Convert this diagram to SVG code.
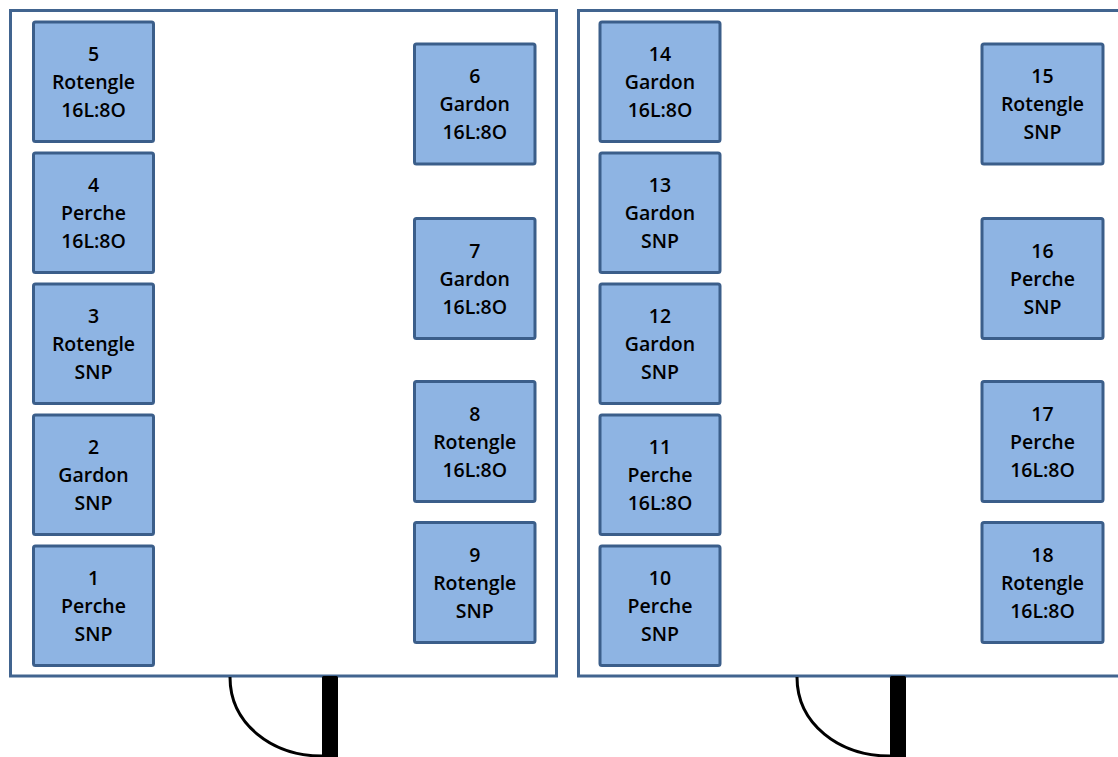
<svg xmlns="http://www.w3.org/2000/svg" width="1118" height="757" viewBox="0 0 1118 757">
<style>
.room{fill:#ffffff;stroke:#41648f;stroke-width:3}
.tank{fill:#8eb4e3;stroke:#3b5e8a;stroke-width:3}
.lbl{font-family:"Open Sans","Liberation Sans",sans-serif;font-weight:600;font-size:19.5px;fill:#000;text-anchor:middle}
.arc{fill:none;stroke:#000;stroke-width:3}
</style>
<rect width="1118" height="757" fill="#ffffff"/>
<g id="room-left"><rect class="room" x="10.5" y="10.5" width="546" height="665.5"/></g>
<g id="room-right"><rect class="room" x="578.5" y="10.5" width="560" height="665.5"/></g>
<g id="doors">
<path class="arc" d="M230 677 C230 724 272 756 322 756"/>
<rect x="322" y="676" width="16" height="82" rx="1.5" fill="#000"/>
<path class="arc" d="M797 677 C797 724 839 756 890 756"/>
<rect x="890" y="676" width="16" height="82" rx="1.5" fill="#000"/>
</g>
<g id="n5"><rect class="tank" x="33.5" y="22" width="120" height="119.5" rx="2"/><text class="lbl" x="93.5" y="61">5</text><text class="lbl" x="93.5" y="89">Rotengle</text><text class="lbl" x="93.5" y="117">16L:8O</text></g>
<g id="n4"><rect class="tank" x="33.5" y="153" width="120" height="119.5" rx="2"/><text class="lbl" x="93.5" y="192">4</text><text class="lbl" x="93.5" y="220">Perche</text><text class="lbl" x="93.5" y="248">16L:8O</text></g>
<g id="n3"><rect class="tank" x="33.5" y="284" width="120" height="119.5" rx="2"/><text class="lbl" x="93.5" y="323">3</text><text class="lbl" x="93.5" y="351">Rotengle</text><text class="lbl" x="93.5" y="379">SNP</text></g>
<g id="n2"><rect class="tank" x="33.5" y="415" width="120" height="119.5" rx="2"/><text class="lbl" x="93.5" y="454">2</text><text class="lbl" x="93.5" y="482">Gardon</text><text class="lbl" x="93.5" y="510">SNP</text></g>
<g id="n1"><rect class="tank" x="33.5" y="546" width="120" height="119.5" rx="2"/><text class="lbl" x="93.5" y="585">1</text><text class="lbl" x="93.5" y="613">Perche</text><text class="lbl" x="93.5" y="641">SNP</text></g>
<g id="n6"><rect class="tank" x="414.5" y="44" width="120.5" height="120" rx="2"/><text class="lbl" x="474.75" y="83">6</text><text class="lbl" x="474.75" y="111">Gardon</text><text class="lbl" x="474.75" y="139">16L:8O</text></g>
<g id="n7"><rect class="tank" x="414.5" y="218.5" width="120.5" height="120" rx="2"/><text class="lbl" x="474.75" y="257.5">7</text><text class="lbl" x="474.75" y="285.5">Gardon</text><text class="lbl" x="474.75" y="313.5">16L:8O</text></g>
<g id="n8"><rect class="tank" x="414.5" y="381.5" width="120.5" height="120" rx="2"/><text class="lbl" x="474.75" y="420.5">8</text><text class="lbl" x="474.75" y="448.5">Rotengle</text><text class="lbl" x="474.75" y="476.5">16L:8O</text></g>
<g id="n9"><rect class="tank" x="414.5" y="522.5" width="120.5" height="120" rx="2"/><text class="lbl" x="474.75" y="561.5">9</text><text class="lbl" x="474.75" y="589.5">Rotengle</text><text class="lbl" x="474.75" y="617.5">SNP</text></g>
<g id="n14"><rect class="tank" x="600" y="22" width="120" height="119.5" rx="2"/><text class="lbl" x="660" y="61">14</text><text class="lbl" x="660" y="89">Gardon</text><text class="lbl" x="660" y="117">16L:8O</text></g>
<g id="n13"><rect class="tank" x="600" y="153" width="120" height="119.5" rx="2"/><text class="lbl" x="660" y="192">13</text><text class="lbl" x="660" y="220">Gardon</text><text class="lbl" x="660" y="248">SNP</text></g>
<g id="n12"><rect class="tank" x="600" y="284" width="120" height="119.5" rx="2"/><text class="lbl" x="660" y="323">12</text><text class="lbl" x="660" y="351">Gardon</text><text class="lbl" x="660" y="379">SNP</text></g>
<g id="n11"><rect class="tank" x="600" y="415" width="120" height="119.5" rx="2"/><text class="lbl" x="660" y="454">11</text><text class="lbl" x="660" y="482">Perche</text><text class="lbl" x="660" y="510">16L:8O</text></g>
<g id="n10"><rect class="tank" x="600" y="546" width="120" height="119.5" rx="2"/><text class="lbl" x="660" y="585">10</text><text class="lbl" x="660" y="613">Perche</text><text class="lbl" x="660" y="641">SNP</text></g>
<g id="n15"><rect class="tank" x="982" y="44" width="121" height="120" rx="2"/><text class="lbl" x="1042.5" y="83">15</text><text class="lbl" x="1042.5" y="111">Rotengle</text><text class="lbl" x="1042.5" y="139">SNP</text></g>
<g id="n16"><rect class="tank" x="982" y="218.5" width="121" height="120" rx="2"/><text class="lbl" x="1042.5" y="257.5">16</text><text class="lbl" x="1042.5" y="285.5">Perche</text><text class="lbl" x="1042.5" y="313.5">SNP</text></g>
<g id="n17"><rect class="tank" x="982" y="381.5" width="121" height="120" rx="2"/><text class="lbl" x="1042.5" y="420.5">17</text><text class="lbl" x="1042.5" y="448.5">Perche</text><text class="lbl" x="1042.5" y="476.5">16L:8O</text></g>
<g id="n18"><rect class="tank" x="982" y="522.5" width="121" height="120" rx="2"/><text class="lbl" x="1042.5" y="561.5">18</text><text class="lbl" x="1042.5" y="589.5">Rotengle</text><text class="lbl" x="1042.5" y="617.5">16L:8O</text></g>
<g id="connectors"></g>
</svg>
